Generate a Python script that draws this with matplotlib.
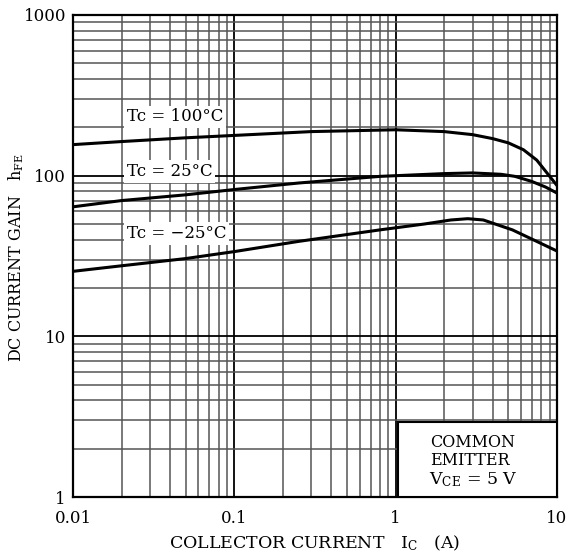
import matplotlib
matplotlib.use('Agg')
import matplotlib.pyplot as plt
from matplotlib.patches import Rectangle

plt.rcParams['font.family'] = 'DejaVu Serif'
plt.rcParams['mathtext.fontset'] = 'dejavuserif'

# collector current (A) and hFE
ic_100 = [0.01, 0.02, 0.05, 0.1, 0.3, 1.0, 2.0, 3.0, 4.0, 5.0, 6.2, 7.5, 10.0]
hfe_100 = [156, 163, 172, 178, 188, 193, 188, 180, 170, 160, 145, 125, 87]

ic_25 = [0.01, 0.02, 0.05, 0.1, 0.25, 0.8, 2.0, 3.0, 4.5, 5.5, 7.0, 8.5, 10.0]
hfe_25 = [64, 70, 76, 82, 90, 99, 103, 104, 102, 99, 92, 85, 78]

ic_m25 = [0.01, 0.02, 0.05, 0.1, 0.25, 0.8, 1.5, 2.2, 2.8, 3.5, 5.3, 7.5, 10.0]
hfe_m25 = [25.4, 27.5, 30.5, 33.7, 39, 46, 50, 53, 54, 53, 46, 39, 34]

labels = ['Tc = 100°C', 'Tc = 25°C', 'Tc = \u221225°C']
label_y = [232, 106, 43.6]

fig = plt.figure(figsize=(5.7, 5.53), dpi=100)
ax = fig.add_axes([0.128, 0.101, 0.849, 0.872])
ax.set_xscale('log')
ax.set_yscale('log')
ax.set_xlim(0.01, 10)
ax.set_ylim(1, 1000)

ax.grid(True, which='major', color='black', lw=1.3)
ax.grid(True, which='minor', color='#555555', lw=1.1)
ax.set_axisbelow(True)
ax.tick_params(which='both', length=0, labelsize=12)
ax.tick_params(axis='x', pad=9)
ax.tick_params(axis='y', pad=5)
ax.set_xticks([0.01, 0.1, 1, 10])
ax.set_xticklabels(['0.01', '0.1', '1', '10'])
ax.set_yticks([1, 10, 100, 1000])
ax.set_yticklabels(['1', '10', '100', '1000'])
for s in ax.spines.values():
    s.set_linewidth(1.6)

for x, y in [(ic_100, hfe_100), (ic_25, hfe_25), (ic_m25, hfe_m25)]:
    ax.plot(x, y, color='black', lw=2.2, zorder=3)

for lab, y in zip(labels, label_y):
    ax.text(0.0216, y, lab, fontsize=12, va='center', ha='left', zorder=4,
            bbox=dict(facecolor='white', edgecolor='none', pad=2))

ax.add_patch(Rectangle((0.671, 0), 0.329, 0.156, transform=ax.transAxes,
                       facecolor='white', edgecolor='black', lw=1.5, zorder=4))
ax.text(0.738, 0.114, 'COMMON', transform=ax.transAxes, fontsize=11.5,
        va='center', ha='left', zorder=5)
ax.text(0.738, 0.077, 'EMITTER', transform=ax.transAxes, fontsize=11.5,
        va='center', ha='left', zorder=5)
ax.text(0.735, 0.036, r'V$_{\rm CE}$ = 5 V', transform=ax.transAxes, fontsize=12.5,
        va='center', ha='left', zorder=5)

ax.set_xlabel(r'COLLECTOR CURRENT   I$_{\rm C}$   (A)', fontsize=12.5, labelpad=5)
fig.text(16 / 570, 1 - 258 / 553, r'DC CURRENT GAIN   h$_{\rm FE}$', fontsize=11.5,
         rotation=90, ha='center', va='center')

fig.savefig('out.png', dpi=100)
